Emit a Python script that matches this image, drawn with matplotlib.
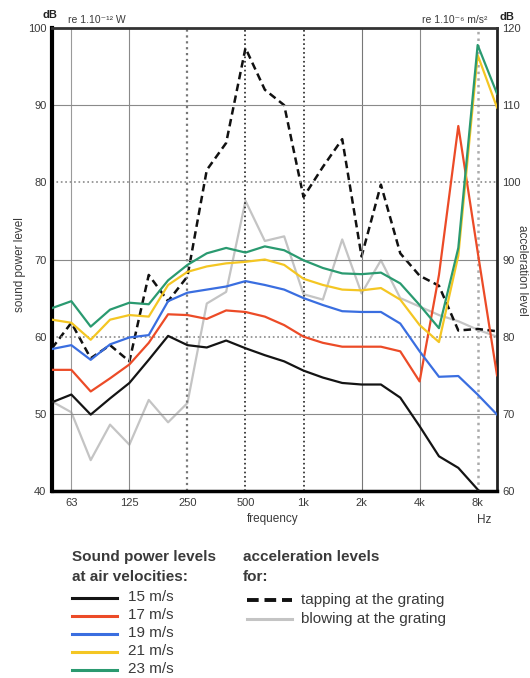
import numpy as np
import matplotlib
matplotlib.use("Agg")
import matplotlib.pyplot as plt
from matplotlib.lines import Line2D

plt.rcParams['font.family'] = ['Liberation Sans', 'DejaVu Sans']

# one-third octave bands, 50 Hz .. 10 kHz
bands = ["50", "63", "80", "100", "125", "160", "200", "250", "315", "400", "500", "630",
         "800", "1k", "1.25k", "1.6k", "2k", "2.5k", "3.15k", "4k", "5k", "6.3k", "8k", "10k"]
tick_bands = ["63", "125", "250", "500", "1k", "2k", "4k", "8k"]

# sound power levels, dB re 1e-12 W
lw_15 = [51.5, 52.5, 49.9, 52.0, 54.0, 57.0, 60.1, 58.9, 58.6, 59.5, 58.5, 57.6,
         56.8, 55.6, 54.7, 54.0, 53.8, 53.8, 52.1, 48.4, 44.5, 43.0, 40.2, 37.0]
lw_17 = [55.7, 55.7, 52.9, 54.6, 56.4, 59.2, 62.9, 62.8, 62.3, 63.4, 63.2, 62.6,
         61.5, 60.0, 59.2, 58.7, 58.7, 58.7, 58.1, 54.2, 68.0, 87.3, 71.0, 55.0]
lw_19 = [58.4, 58.9, 57.0, 59.0, 59.9, 60.2, 64.6, 65.7, 66.1, 66.5, 67.2, 66.7,
         66.1, 65.0, 64.1, 63.3, 63.2, 63.2, 61.7, 58.1, 54.8, 54.9, 52.5, 49.9]
lw_21 = [62.2, 61.8, 59.6, 62.2, 62.8, 62.6, 66.7, 68.4, 69.1, 69.5, 69.7, 70.0,
         69.3, 67.5, 66.7, 66.1, 66.0, 66.3, 64.8, 61.5, 59.3, 70.5, 96.5, 89.7]
lw_23 = [63.7, 64.6, 61.3, 63.5, 64.4, 64.2, 67.3, 69.3, 70.8, 71.5, 70.9, 71.7,
         71.2, 69.9, 68.9, 68.2, 68.1, 68.3, 66.9, 64.1, 61.1, 71.5, 97.8, 91.5]

# acceleration levels, dB re 1e-6 m/s^2
tapping = [78.5, 81.8, 77.2, 78.9, 76.8, 88.0, 84.6, 87.8, 101.6, 105.1, 117.4, 112.0,
           110.0, 98.1, 102.0, 105.6, 90.4, 99.7, 90.8, 87.9, 86.6, 80.8, 81.0, 80.7]
blowing = [71.6, 70.2, 64.0, 68.6, 66.0, 71.8, 68.9, 71.4, 84.3, 85.8, 97.6, 92.4,
           93.0, 85.5, 84.8, 92.6, 85.6, 89.9, 85.0, 83.9, 82.8, 82.0, 80.9, 80.0]

velocities = ["15 m/s", "17 m/s", "19 m/s", "21 m/s", "23 m/s"]
power_series = [lw_15, lw_17, lw_19, lw_21, lw_23]
colors = ["#141414", "#ec4b27", "#3a6ee0", "#f4c623", "#2a9a70"]
gray_c = "#c4c4c4"
txt_c = "#3a3a3a"

x = np.arange(len(bands))
tick_pos = [bands.index(b) for b in tick_bands]

W, H = 530, 678
fig = plt.figure(figsize=(W / 100, H / 100), dpi=100)
ax = fig.add_axes([52 / W, 1 - 491 / H, 445 / W, 463 / H])
ax2 = ax.twinx()

ax.set_xlim(0, len(bands) - 1)
ax.set_ylim(40, 100)
ax2.set_ylim(60, 120)

# grid
vstyles = {"63": ("-", "#9a9a9a", 0.8), "125": ("-", "#8a8a8a", 0.8),
           "250": (":", "#777777", 1.6), "500": (":", "#222222", 1.2),
           "1k": (":", "#222222", 1.2), "2k": ("-", "#777777", 0.8),
           "4k": ("-", "#8a8a8a", 0.8), "8k": (":", "#aaaaaa", 1.8)}
for b in tick_bands:
    ls, c, w = vstyles[b]
    ax.axvline(bands.index(b), ls=ls, color=c, lw=w, zorder=0)
for yv in [50, 60, 70, 80, 90]:
    if yv in (60, 80):
        ax.axhline(yv, ls=":", color="#8a8a8a", lw=1.2, zorder=0)
    else:
        ax.axhline(yv, ls="-", color="#8a8a8a", lw=0.8, zorder=0)

# acceleration curves (right axis)
ax2.plot(x, blowing, color=gray_c, lw=1.6, zorder=2)
ax2.plot(x, tapping, color="#111111", lw=1.8, ls=(0, (3, 1.8)), zorder=3)

# sound power curves (left axis)
ax.set_zorder(ax2.get_zorder() + 1)
ax.patch.set_visible(False)
for ys, c in zip(power_series, colors):
    ax.plot(x, ys, color=c, lw=1.6, zorder=3)

# ticks
ax.set_xticks(tick_pos)
ax.set_xticklabels(tick_bands)
ax.set_yticks(np.arange(40, 101, 10))
ax2.set_yticks(np.arange(60, 121, 10))
ax.tick_params(axis="both", length=0, labelsize=8, colors=txt_c, pad=5)
ax.tick_params(axis="y", pad=4)
ax2.tick_params(axis="y", length=0, labelsize=8, colors=txt_c, pad=4)

for a in (ax, ax2):
    for s in a.spines.values():
        s.set_visible(False)
ax.spines["left"].set_visible(True)
ax.spines["left"].set_linewidth(3)
ax.spines["bottom"].set_visible(True)
ax.spines["bottom"].set_linewidth(2.5)
ax.spines["top"].set_visible(True)
ax.spines["top"].set_linewidth(2)
ax.spines["top"].set_color("#333333")
ax.spines["right"].set_visible(True)
ax.spines["right"].set_linewidth(2)
ax.spines["right"].set_color("#222222")

# axis labels
fig.text(20 / W, 1 - 265 / H, "sound power level", rotation=90, ha="center", va="center",
         fontsize=8.5, color=txt_c)
fig.text(522 / W, 1 - 270 / H, "acceleration level", rotation=-90, ha="center", va="center",
         fontsize=8.5, color=txt_c)
fig.text(273 / W, 1 - 519 / H, "frequency", ha="center", va="center", fontsize=8.5, color=txt_c)
fig.text(484 / W, 1 - 520 / H, "Hz", ha="center", va="center", fontsize=8.5, color=txt_c)
fig.text(50 / W, 1 - 15 / H, "dB", ha="center", va="center", fontsize=8, color="#222222",
         fontweight="bold")
fig.text(68 / W, 1 - 20 / H, "re 1.10\u207b\u00b9\u00b2 W", ha="left", va="center",
         fontsize=7.5, color=txt_c)
fig.text(487 / W, 1 - 20 / H, "re 1.10\u207b\u2076 m/s\u00b2", ha="right", va="center",
         fontsize=7.5, color=txt_c)
fig.text(499 / W, 1 - 17 / H, "dB", ha="left", va="center", fontsize=8, color="#222222",
         fontweight="bold")

# legend blocks
fs = 11
fig.text(72 / W, 1 - 557 / H, "Sound power levels", fontsize=fs, fontweight="bold",
         color=txt_c, va="center")
fig.text(72 / W, 1 - 577 / H, "at air velocities:", fontsize=fs, fontweight="bold",
         color=txt_c, va="center")
leg_y = [598, 616, 634, 652, 670]
for lab, c, yy in zip(velocities, colors, leg_y):
    fig.add_artist(Line2D([72 / W, 117 / W], [1 - yy / H, 1 - yy / H], color=c, lw=2.2,
                          transform=fig.transFigure))
    fig.text(128 / W, 1 - (yy - 1) / H, lab, fontsize=fs, color=txt_c, va="center")

fig.text(243 / W, 1 - 557 / H, "acceleration levels", fontsize=fs, fontweight="bold",
         color=txt_c, va="center")
fig.text(243 / W, 1 - 577 / H, "for:", fontsize=fs, fontweight="bold",
         color=txt_c, va="center")
fig.add_artist(Line2D([247 / W, 292 / W], [1 - 600 / H, 1 - 600 / H], color="#111111", lw=2.8,
                      ls=(0, (3, 1.5)), transform=fig.transFigure))
fig.text(301 / W, 1 - 600 / H, "tapping at the grating", fontsize=fs, color=txt_c, va="center")
fig.add_artist(Line2D([247 / W, 292 / W], [1 - 619 / H, 1 - 619 / H], color=gray_c, lw=2.2,
                      transform=fig.transFigure))
fig.text(301 / W, 1 - 619 / H, "blowing at the grating", fontsize=fs, color=txt_c, va="center")

fig.savefig("out.png", dpi=100)
